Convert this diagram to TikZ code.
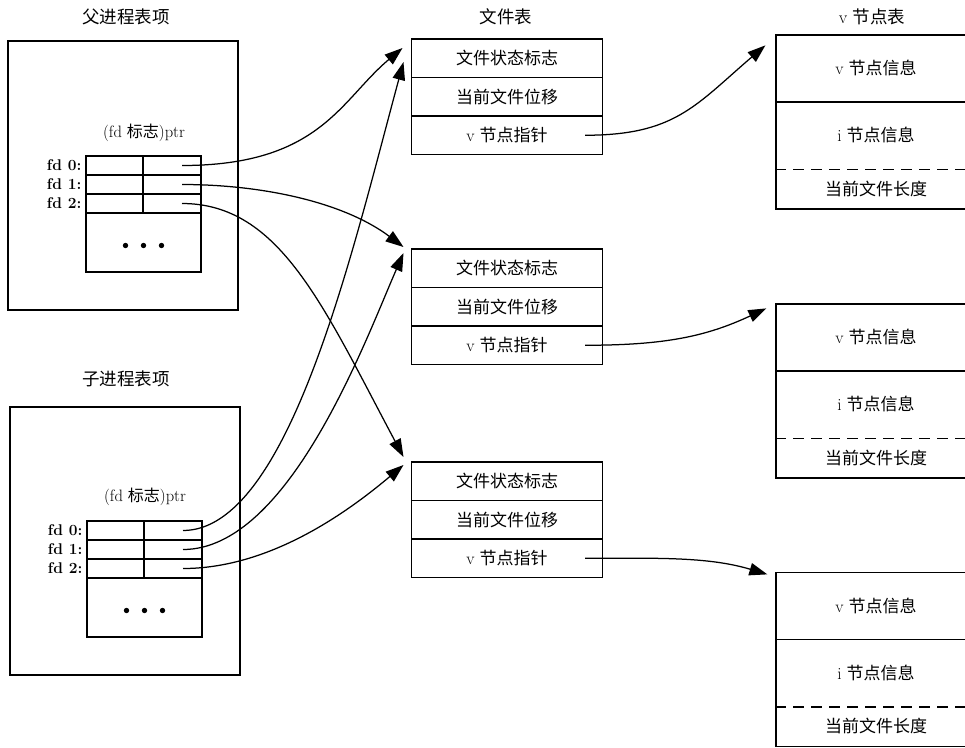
\documentclass[tikz,border=0pt]{standalone}
\usepackage{fontspec}
\newfontfamily\cjk{Noto Sans CJK SC}
\usetikzlibrary{arrows.meta, positioning, calc}

\begin{document}
\begin{tikzpicture}[x=1pt, y=-1pt, line width=1.25pt,
  proc/.style={rectangle, draw, minimum width=230pt, minimum height=268pt, inner sep=0pt},
  fdcell/.style={rectangle, draw, minimum height=19pt, inner sep=0pt, outer sep=0pt},
  fdlab/.style={inner sep=0pt, font=\fontsize{15.5pt}{17pt}\selectfont\bfseries},
  ftrow/.style={rectangle, draw, minimum width=191pt, minimum height=38.5pt,
                inner sep=0pt, outer sep=0pt, font=\fontsize{17pt}{20pt}\selectfont},
  vbox/.style={rectangle, draw, minimum width=200pt, minimum height=174pt, inner sep=0pt},
  vtext/.style={inner sep=0pt, font=\fontsize{17pt}{20pt}\selectfont},
  ttl/.style={inner sep=0pt, font=\fontsize{17.5pt}{20pt}\selectfont},
  arr/.style={-{Triangle[length=18pt, width=12.5pt]}, line width=1.25pt}
]
\useasboundingbox (0,0) rectangle (965,747);
\clip (0,0) rectangle (965,747);

% parent process entry
\node[ttl] (ptitle) at (126,17) {\cjk 父进程表项};
\node[proc, minimum height=269pt] (pproc) at (123,175.5) {};
\node[vtext, font=\fontsize{16.5pt}{19pt}\selectfont] (pptr) at (144,133)
  {(fd {\cjk\fontsize{16pt}{19pt}\selectfont 标志})ptr};
\node[fdcell, minimum width=57pt] (pl0) at (114.5,165.5) {};
\node[fdcell, minimum width=58pt, right=0pt of pl0] (pr0) {};
\node[fdcell, minimum width=57pt, below=0pt of pl0] (pl1) {};
\node[fdcell, minimum width=58pt, right=0pt of pl1] (pr1) {};
\node[fdcell, minimum width=57pt, below=0pt of pl1] (pl2) {};
\node[fdcell, minimum width=58pt, right=0pt of pl2] (pr2) {};
\node[fdcell, minimum width=115pt, minimum height=59pt, anchor=north west] (pmore) at (pl2.south west) {};
\foreach \dx in {-18,0,18} \fill ($(pmore.center)+(\dx,3)$) circle (2.7);
\node[fdlab, left=4pt of pl0] (pfd0) {fd 0:};
\node[fdlab, left=4pt of pl1] (pfd1) {fd 1:};
\node[fdlab, left=4pt of pl2] (pfd2) {fd 2:};

% child process entry
\node[ttl] (ctitle) at (126,379) {\cjk 子进程表项};
\node[proc] (cproc) at (125,541) {};
\node[vtext, font=\fontsize{16.5pt}{19pt}\selectfont] (cptr) at (145,497)
  {(fd {\cjk\fontsize{16pt}{19pt}\selectfont 标志})ptr};
\node[fdcell, minimum width=57pt] (cl0) at (115.5,530.5) {};
\node[fdcell, minimum width=58pt, right=0pt of cl0] (cr0) {};
\node[fdcell, minimum width=57pt, below=0pt of cl0] (cl1) {};
\node[fdcell, minimum width=58pt, right=0pt of cl1] (cr1) {};
\node[fdcell, minimum width=57pt, below=0pt of cl1] (cl2) {};
\node[fdcell, minimum width=58pt, right=0pt of cl2] (cr2) {};
\node[fdcell, minimum width=115pt, minimum height=59pt, anchor=north west] (cmore) at (cl2.south west) {};
\foreach \dx in {-18,0,18} \fill ($(cmore.center)+(\dx,3)$) circle (2.7);
\node[fdlab, left=4pt of cl0] (cfd0) {fd 0:};
\node[fdlab, left=4pt of cl1] (cfd1) {fd 1:};
\node[fdlab, left=4pt of cl2] (cfd2) {fd 2:};

% file table
\node[ttl] (ftitle) at (506,17) {\cjk 文件表};
\foreach \i/\y in {1/58.25, 2/268.25, 3/481.25} {
  \node[ftrow] (f\i a) at (507,\y) {\cjk 文件状态标志};
  \node[ftrow, below=0pt of f\i a] (f\i b) {\cjk 当前文件位移};
  \node[ftrow, below=0pt of f\i b] (f\i c) {v \cjk 节点指针};
}

% v-node table
\node[ttl] (vtitle) at (872,17) {v {\cjk 节点表}};
\foreach \i/\y in {1/122, 2/391, 3/659.5} {
  \node[vbox] (v\i) at (876,\y) {};
  \draw ($(v\i.north west)+(0,67.5)$) -- ($(v\i.north east)+(0,67.5)$);
  \draw[dashed, dash pattern=on 11pt off 7pt] ($(v\i.north west)+(0,135)$) -- ($(v\i.north east)+(0,135)$);
  \node[vtext] (v\i v) at ($(v\i.north)+(0,34)$) {v \cjk 节点信息};
  \node[vtext] (v\i i) at ($(v\i.north)+(0,101)$) {i \cjk 节点信息};
  \node[vtext] (v\i l) at ($(v\i.north)+(0,154.5)$) {\cjk 当前文件长度};
}

% descriptor pointers
\coordinate (pp0) at ($(pr0.center)+(10,0)$);
\coordinate (pp1) at ($(pr1.center)+(10,0)$);
\coordinate (pp2) at ($(pr2.center)+(10,0)$);
\coordinate (cp0) at ($(cr0.center)+(10,0)$);
\coordinate (cp1) at ($(cr1.center)+(10,0)$);
\coordinate (cp2) at ($(cr2.center)+(10,0)$);

\draw[arr] (pp0) .. controls +(138,0) and +(-62,52) .. ($(f1a.north west)+(-9,9)$);
\draw[arr] (pp1) .. controls +(80,0) and +(-60,-45) .. ($(f2a.north west)+(-8,-2)$);
\draw[arr] (pp2) .. controls +(98,0) and +(-80,-150) .. ($(f3a.north west)+(-8,-5)$);
\draw[arr] (cp0) .. controls +(106,0) and +(-51,188) .. ($(f1a.north west)+(-8,23)$);
\draw[arr] (cp1) .. controls +(106,0) and +(-38,87) .. ($(f2a.north west)+(-8,4)$);
\draw[arr] (cp2) .. controls +(67,0) and +(-83,70) .. ($(f3a.north west)+(-8,3)$);

% v-node pointers
\draw[arr] ($(f1c.center)+(78,0)$) .. controls +(90,0) and +(-70,60) .. ($(v1.north west)+(-10,11)$);
\draw[arr] ($(f2c.center)+(78,0)$) .. controls +(80,0) and +(-60,28) .. ($(v2.north west)+(-9,5)$);
\draw[arr] ($(f3c.center)+(78,0)$) .. controls +(70,0) and +(-60,-18) .. ($(v3.north west)+(-8,2.5)$);
\end{tikzpicture}
\end{document}
